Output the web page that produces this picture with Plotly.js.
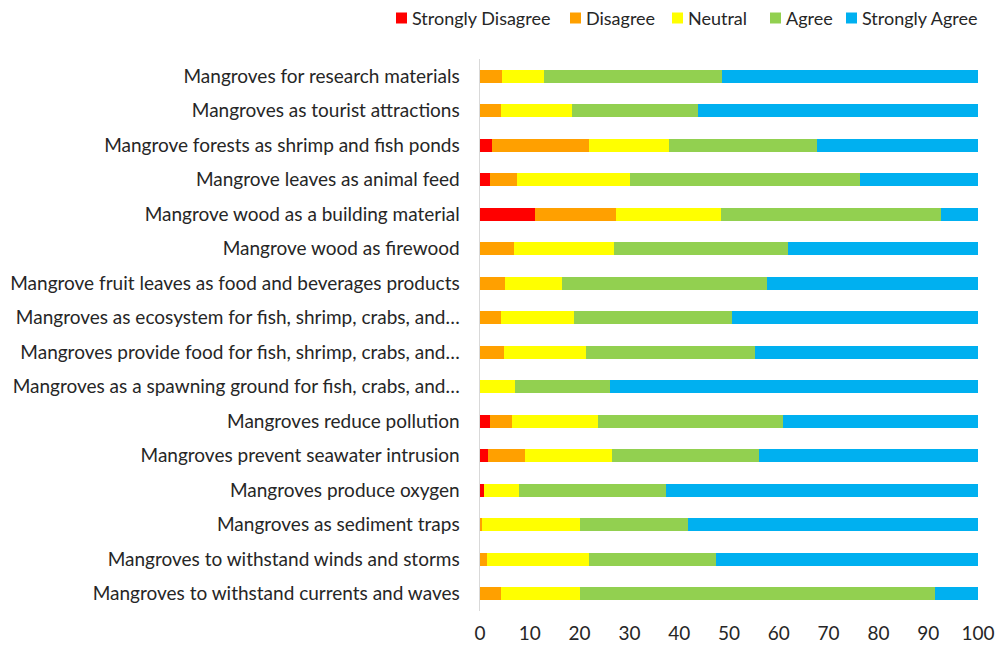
<!DOCTYPE html>
<html>
<head>
<meta charset="utf-8">
<script src="https://cdn.plot.ly/plotly-3.0.1.min.js"></script>
<style>html,body{margin:0;padding:0;background:#fff}#chart{width:997px;height:645px}</style>
</head>
<body>
<div id="chart"></div>
<script>
const categories = [
  "Mangroves for research materials",
  "Mangroves as tourist attractions",
  "Mangrove forests as shrimp and fish ponds",
  "Mangrove leaves as animal feed",
  "Mangrove wood as a building material",
  "Mangrove wood as firewood",
  "Mangrove fruit leaves as food and beverages products",
  "Mangroves as ecosystem for fish, shrimp, crabs, and…",
  "Mangroves provide food for fish, shrimp, crabs, and…",
  "Mangroves as a spawning ground for fish, crabs, and…",
  "Mangroves reduce pollution",
  "Mangroves prevent seawater intrusion",
  "Mangroves produce oxygen",
  "Mangroves as sediment traps",
  "Mangroves to withstand winds and storms",
  "Mangroves to withstand currents and waves"
];
const stronglyDisagree = [0, 0, 2.5, 2.1, 11.1, 0, 0, 0, 0, 0, 2.1, 1.7, 0.9, 0, 0, 0];
const disagree        = [4.4, 4.3, 19.3, 5.3, 16.3, 6.8, 5.0, 4.3, 4.8, 0, 4.3, 7.3, 0, 0.5, 1.4, 4.3];
const neutral         = [8.4, 14.2, 16.1, 22.8, 20.9, 20.2, 11.5, 14.6, 16.4, 7.1, 17.2, 17.6, 6.9, 19.6, 20.4, 15.8];
const agree           = [35.8, 25.2, 29.7, 46.1, 44.2, 34.8, 41.1, 31.7, 34.1, 19.1, 37.2, 29.4, 29.5, 21.7, 25.5, 71.3];
const stronglyAgree   = [51.4, 56.3, 32.4, 23.7, 7.5, 38.2, 42.4, 49.4, 44.7, 73.8, 39.2, 44.0, 62.7, 58.2, 52.7, 8.6];
const seriesNames = ["Strongly Disagree", "Disagree", "Neutral", "Agree", "Strongly Agree"];
const xTicks = [0, 10, 20, 30, 40, 50, 60, 70, 80, 90, 100];

const colors = ["#FF0000", "#FFA000", "#FFFF00", "#92D050", "#00B0F0"];
const series = [stronglyDisagree, disagree, neutral, agree, stronglyAgree];
const traces = series.map((vals, i) => ({
  type: "bar",
  orientation: "h",
  name: seriesNames[i],
  y: categories,
  x: vals,
  marker: {color: colors[i], line: {width: 0}},
  hoverinfo: "x+y+name"
}));

// Legend drawn as small squares + labels (pixel positions in the page)
const W = 997, H = 645, M = {l: 480, r: 19, t: 59, b: 34};
const pw = W - M.l - M.r, ph = H - M.t - M.b;
const legendLeft = [396, 570, 672, 770, 846];   // square left edges, px
const legendY = 18;                              // center, px
const sq = 11;
const toPX = px => (px - M.l) / pw;
const toPY = py => (H - M.b - py) / ph;
const shapes = legendLeft.map((lx, i) => ({
  type: "rect", xref: "paper", yref: "paper",
  x0: toPX(lx), x1: toPX(lx + sq), y0: toPY(legendY + sq / 2), y1: toPY(legendY - sq / 2),
  fillcolor: colors[i], line: {width: 0}
}));
const annotations = legendLeft.map((lx, i) => ({
  xref: "paper", yref: "paper", x: toPX(lx + sq + 3), y: toPY(legendY),
  xanchor: "left", yanchor: "middle", showarrow: false,
  text: seriesNames[i], font: {size: 18, color: "#262626"}
}));

const layout = {
  width: W, height: H,
  barmode: "stack",
  bargap: 0.61,
  margin: Object.assign({autoexpand: false}, M),
  paper_bgcolor: "#fff", plot_bgcolor: "#fff",
  font: {family: "Lato, 'Open Sans', sans-serif", size: 19, color: "#262626"},
  showlegend: false,
  shapes: shapes,
  annotations: annotations,
  xaxis: {
    range: [0, 100], tickvals: xTicks, ticktext: xTicks.map(String),
    showgrid: false, zeroline: false, showline: false, ticks: "",
    ticklabelstandoff: 9,
    tickfont: {size: 19, color: "#262626"}, fixedrange: true
  },
  yaxis: {
    autorange: "reversed", type: "category",
    showgrid: false, zeroline: false, showline: true, linecolor: "#d9d9d9", linewidth: 1.5,
    ticks: "", ticklabelstandoff: 15,
    tickfont: {size: 19, color: "#262626"}, fixedrange: true
  }
};

Plotly.newPlot("chart", traces, layout, {displayModeBar: false, staticPlot: true});
</script>
</body>
</html>
